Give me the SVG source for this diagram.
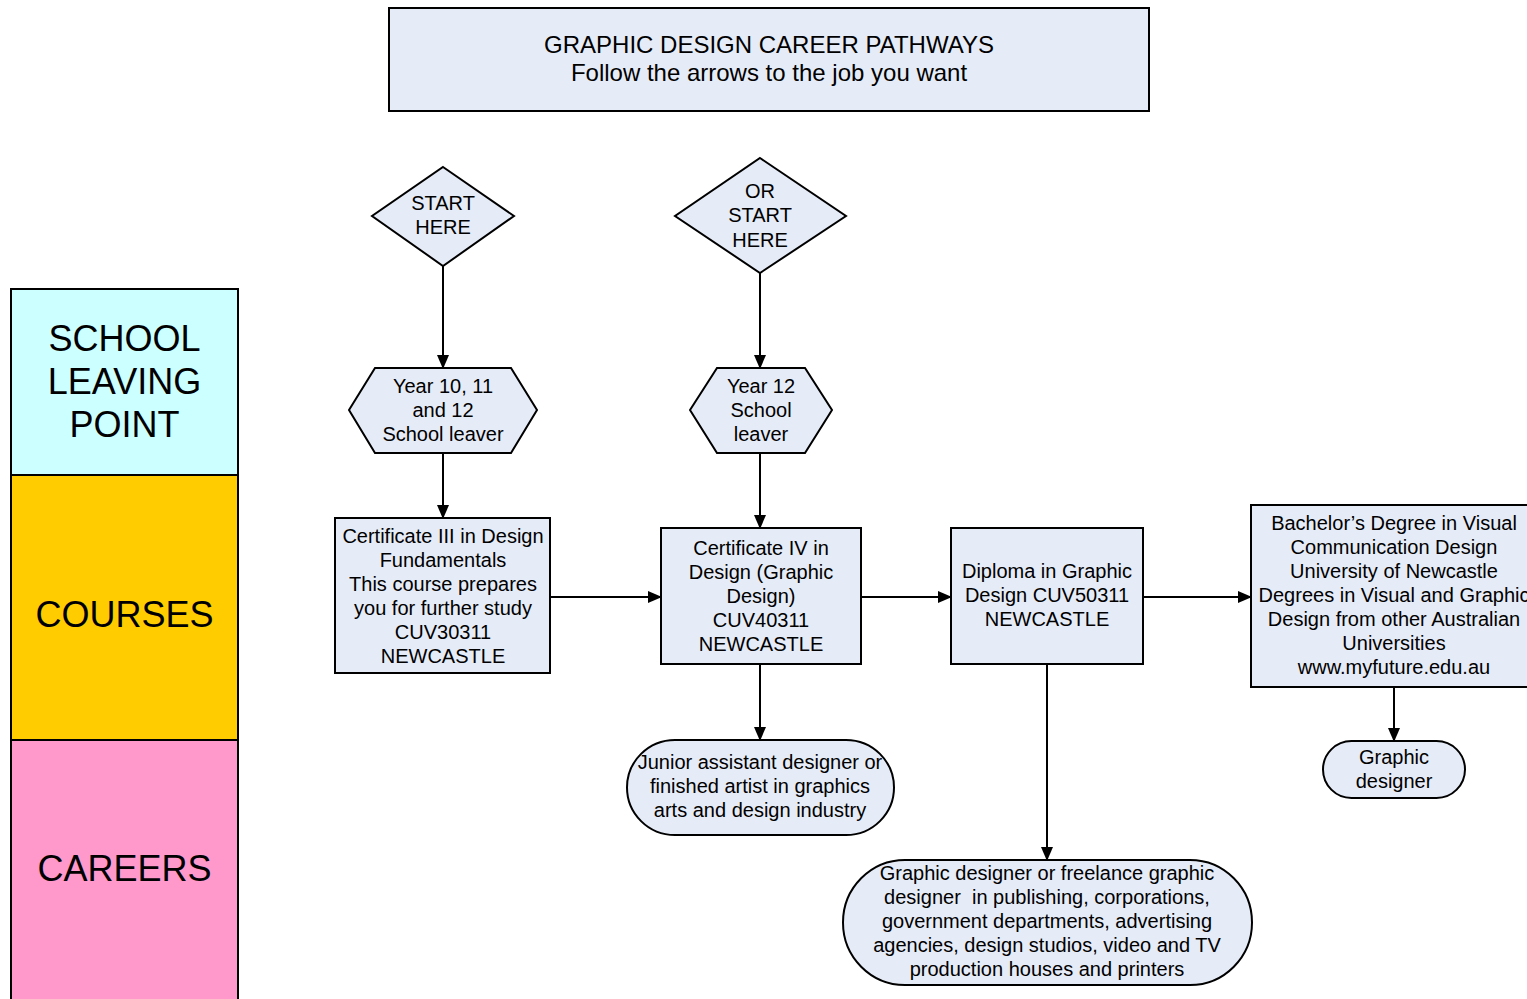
<svg xmlns="http://www.w3.org/2000/svg" width="1527" height="999" viewBox="0 0 1527 999">
<defs>
<marker id="ah" markerWidth="14" markerHeight="12" refX="13" refY="6" orient="auto" markerUnits="userSpaceOnUse">
<path d="M0,0 L14,6 L0,12 Z" fill="#000"/>
</marker>
<style>
.n{fill:#e6ecf7;stroke:#000;stroke-width:2}
.t{font-family:"Liberation Sans",Arial,sans-serif;font-size:20px;fill:#000;text-anchor:middle}
.big{font-family:"Liberation Sans",Arial,sans-serif;font-size:36px;fill:#000;text-anchor:middle}
.c{stroke:#000;stroke-width:2;fill:none;marker-end:url(#ah)}
</style>
</defs>
<rect width="1527" height="999" fill="#fff"/>

<g id="lane-school">
<rect x="11" y="289" width="227" height="186" fill="#ccffff" stroke="#000" stroke-width="2"/>
<text class="big" x="124.5" y="351">SCHOOL</text>
<text class="big" x="124.5" y="394">LEAVING</text>
<text class="big" x="124.5" y="437">POINT</text>
</g>
<g id="lane-courses">
<rect x="11" y="475" width="227" height="265" fill="#ffcc00" stroke="#000" stroke-width="2"/>
<text class="big" x="124.5" y="627">COURSES</text>
</g>
<g id="lane-careers">
<rect x="11" y="740" width="227" height="270" fill="#ff99cc" stroke="#000" stroke-width="2"/>
<text class="big" x="124.5" y="881">CAREERS</text>
</g>

<g id="title">
<rect class="n" x="389" y="8" width="760" height="103"/>
<text class="t" style="font-size:24px" x="769" y="53">GRAPHIC DESIGN CAREER PATHWAYS</text>
<text class="t" style="font-size:24px" x="769" y="81">Follow the arrows to the job you want</text>
</g>

<g id="connectors">
<line class="c" x1="443" y1="266" x2="443" y2="368"/>
<line class="c" x1="760" y1="273" x2="760" y2="368"/>
<line class="c" x1="443" y1="453" x2="443" y2="518"/>
<line class="c" x1="760" y1="453" x2="760" y2="528"/>
<line class="c" x1="550" y1="597" x2="661" y2="597"/>
<line class="c" x1="861" y1="597" x2="951" y2="597"/>
<line class="c" x1="1143" y1="597" x2="1251" y2="597"/>
<line class="c" x1="760" y1="664" x2="760" y2="740"/>
<line class="c" x1="1047" y1="664" x2="1047" y2="860"/>
<line class="c" x1="1394" y1="687" x2="1394" y2="741"/>
</g>

<g id="start1">
<polygon class="n" points="443,167 514,216 443,266 372,216"/>
<text class="t" x="443" y="210">START</text>
<text class="t" x="443" y="234">HERE</text>
</g>
<g id="start2">
<polygon class="n" points="760,158 846,216 760,273 675,216"/>
<text class="t" x="760" y="198">OR</text>
<text class="t" x="760" y="222">START</text>
<text class="t" x="760" y="247">HERE</text>
</g>

<g id="year10">
<polygon class="n" points="349,410 375,368 511,368 537,410 511,453 375,453"/>
<text class="t" x="443" y="393">Year 10, 11</text>
<text class="t" x="443" y="417">and 12</text>
<text class="t" x="443" y="441">School leaver</text>
</g>
<g id="year12">
<polygon class="n" points="690,410 717,368 805,368 832,410 805,453 717,453"/>
<text class="t" x="761" y="393">Year 12</text>
<text class="t" x="761" y="417">School</text>
<text class="t" x="761" y="441">leaver</text>
</g>

<g id="cert3">
<rect class="n" x="335" y="518" width="215" height="155"/>
<text class="t" x="443" y="543">Certificate III in Design</text>
<text class="t" x="443" y="567">Fundamentals</text>
<text class="t" x="443" y="591">This course prepares</text>
<text class="t" x="443" y="615">you for further study</text>
<text class="t" x="443" y="639">CUV30311</text>
<text class="t" x="443" y="663">NEWCASTLE</text>
</g>

<g id="cert4">
<rect class="n" x="661" y="528" width="200" height="136"/>
<text class="t" x="761" y="555">Certificate IV in</text>
<text class="t" x="761" y="579">Design (Graphic</text>
<text class="t" x="761" y="603">Design)</text>
<text class="t" x="761" y="627">CUV40311</text>
<text class="t" x="761" y="651">NEWCASTLE</text>
</g>

<g id="diploma">
<rect class="n" x="951" y="528" width="192" height="136"/>
<text class="t" x="1047" y="578">Diploma in Graphic</text>
<text class="t" x="1047" y="602">Design CUV50311</text>
<text class="t" x="1047" y="626">NEWCASTLE</text>
</g>

<g id="bachelor">
<rect class="n" x="1251" y="505" width="286" height="182"/>
<text class="t" x="1394" y="530">Bachelor’s Degree in Visual</text>
<text class="t" x="1394" y="554">Communication Design</text>
<text class="t" x="1394" y="578">University of Newcastle</text>
<text class="t" x="1394" y="602">Degrees in Visual and Graphic</text>
<text class="t" x="1394" y="626">Design from other Australian</text>
<text class="t" x="1394" y="650">Universities</text>
<text class="t" x="1394" y="674">www.myfuture.edu.au</text>
</g>

<g id="junior">
<rect class="n" x="627" y="740" width="267" height="95" rx="48" ry="47.5"/>
<text class="t" x="760" y="769">Junior assistant designer or</text>
<text class="t" x="760" y="793">finished artist in graphics</text>
<text class="t" x="760" y="817">arts and design industry</text>
</g>

<g id="career-graphic">
<rect class="n" x="843" y="860" width="409" height="125" rx="62" ry="62.5"/>
<text class="t" x="1047" y="880">Graphic designer or freelance graphic</text>
<text class="t" x="1047" y="904" xml:space="preserve">designer  in publishing, corporations,</text>
<text class="t" x="1047" y="928">government departments, advertising</text>
<text class="t" x="1047" y="952">agencies, design studios, video and TV</text>
<text class="t" x="1047" y="976">production houses and printers</text>
</g>

<g id="graphic-designer">
<rect class="n" x="1323" y="741" width="142" height="57" rx="28.5" ry="28.5"/>
<text class="t" x="1394" y="764">Graphic</text>
<text class="t" x="1394" y="788">designer</text>
</g>
</svg>
